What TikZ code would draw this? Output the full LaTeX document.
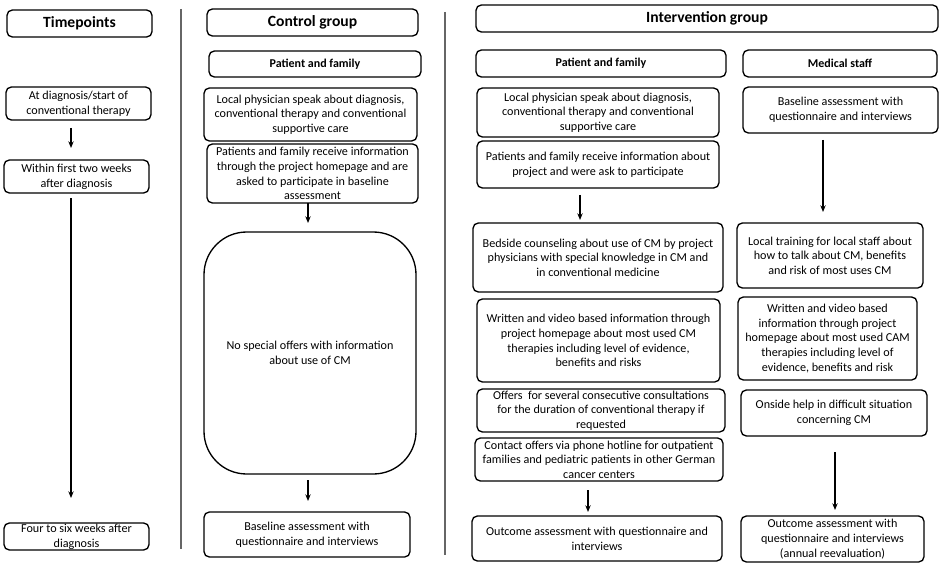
\documentclass[tikz,border=0pt]{standalone}
\usepackage{fontspec}
\setmainfont{Carlito}
\usetikzlibrary{arrows.meta}
\tikzset{
  box/.style={draw=black, line width=1pt, rounded corners=4pt, align=center, font=\fontsize{9.1}{11}\selectfont},
  bigbox/.style={box, rounded corners=32pt},
  head/.style={box, font=\bfseries\fontsize{11.7}{14}\selectfont},
  subhead/.style={box, font=\bfseries\fontsize{9}{10}\selectfont},
  arr/.style={line width=0.9pt, -{Stealth[length=5pt,width=4pt]}},
  sep/.style={line width=0.8pt, draw=black!60}
}
\newcommand\bx[7]{%
  \pgfmathsetmacro\bw{(#4-#2)*0.75}%
  \pgfmathsetmacro\bh{(#5-#3)*0.75}%
  \node[#6, minimum width=\bw pt, minimum height=\bh pt, inner sep=0pt] (#1) at ({(#2+#4)/2},{(#3+#5)/2}) {#7};}
\begin{document}
\begin{tikzpicture}[x=0.75pt, y=-0.75pt]
\useasboundingbox (0,0) rectangle (942,563);
% separators
\coordinate (s1t) at (181,9);
\coordinate (s1b) at (181,549);
\coordinate (s2t) at (445,12);
\coordinate (s2b) at (445,555);
\draw[sep] (s1t) -- (s1b);
\draw[sep] (s2t) -- (s2b);
% headers
\bx{hT}{7}{10}{152}{37}{head}{Timepoints}
\bx{hC}{207}{9}{418}{36}{head}{Control group}
\bx{hI}{476}{5}{938}{32}{head}{Intervention group}
\bx{hCP}{209}{51}{421}{77}{subhead}{Patient and family}
\bx{hIP}{476}{50}{726}{77}{subhead}{Patient and family}
\bx{hM}{743}{50}{937}{77}{subhead}{Medical staff}
% timepoints
\bx{t1}{6}{87}{151}{120}{box}{At diagnosis/start of\\conventional therapy}
\bx{t2}{4}{160}{149}{193}{box}{Within first two weeks\\after diagnosis}
\bx{t3}{4}{523}{149}{550}{box}{Four to six weeks after\\diagnosis}
% control
\bx{c1}{204}{88}{417}{141}{box}{Local physician speak about diagnosis,\\conventional therapy and conventional\\supportive care}
\bx{c2}{207}{144}{418}{203}{box}{Patients and family receive information\\through the project homepage and are\\asked to participate in baseline\\assessment}
\bx{c3}{204}{232}{416}{474}{bigbox}{No special offers with information\\about use of CM}
\bx{c4}{204}{512}{410}{557}{box}{Baseline assessment with\\questionnaire and interviews}
% intervention patient and family
\bx{i1}{477}{88}{719}{137}{box}{Local physician speak about diagnosis,\\conventional therapy and conventional\\supportive care}
\bx{i2}{477}{141}{719}{188}{box}{Patients and family receive information about\\project and were ask to participate}
\bx{i3}{473}{223}{723}{292}{box}{Bedside counseling about use of CM by project\\physicians with special knowledge in CM and\\in conventional medicine}
\bx{i4}{477}{299}{720}{382}{box}{Written and video based information through\\project homepage about most used CM\\therapies including level of evidence,\\benefits and risks}
\bx{i5}{477}{389}{725}{432}{box}{Offers \ for several consecutive consultations\\for the duration of conventional therapy if\\requested}
\bx{i6}{475}{438}{723}{481}{box}{Contact offers via phone hotline for outpatient\\families and pediatric patients in other German\\cancer centers}
\bx{i7}{472}{516}{722}{561}{box}{Outcome assessment with questionnaire and\\interviews}
% medical staff
\bx{m1}{743}{87}{938}{133}{box}{Baseline assessment with\\questionnaire and interviews}
\bx{m2}{737}{223}{923}{288}{box}{Local training for local staff about\\how to talk about CM, benefits\\and risk of most uses CM}
\bx{m3}{738}{297}{917}{380}{box}{Written and video based\\information through project\\homepage about most used CAM\\therapies including level of\\evidence, benefits and risk}
\bx{m4}{741}{390}{927}{436}{box}{Onside help in difficult situation\\concerning CM}
\bx{m5}{741}{516}{924}{562}{box}{Outcome assessment with\\questionnaire and interviews\\(annual reevaluation)}
% arrow end points
\coordinate (a1s) at (71,128);  \coordinate (a1e) at (71,148);
\coordinate (a2s) at (71,198);  \coordinate (a2e) at (71,498);
\coordinate (a3s) at (308,203); \coordinate (a3e) at (308,223);
\coordinate (a4s) at (308,480); \coordinate (a4e) at (308,501);
\coordinate (a5s) at (580,195); \coordinate (a5e) at (580,220);
\coordinate (a6s) at (588,490); \coordinate (a6e) at (588,512);
\coordinate (a7s) at (823,140); \coordinate (a7e) at (823,212);
\coordinate (a8s) at (835,452); \coordinate (a8e) at (835,510);
\draw[arr] (a1s) -- (a1e);
\draw[arr] (a2s) -- (a2e);
\draw[arr] (a3s) -- (a3e);
\draw[arr] (a4s) -- (a4e);
\draw[arr] (a5s) -- (a5e);
\draw[arr] (a6s) -- (a6e);
\draw[arr] (a7s) -- (a7e);
\draw[arr] (a8s) -- (a8e);
\end{tikzpicture}
\end{document}
